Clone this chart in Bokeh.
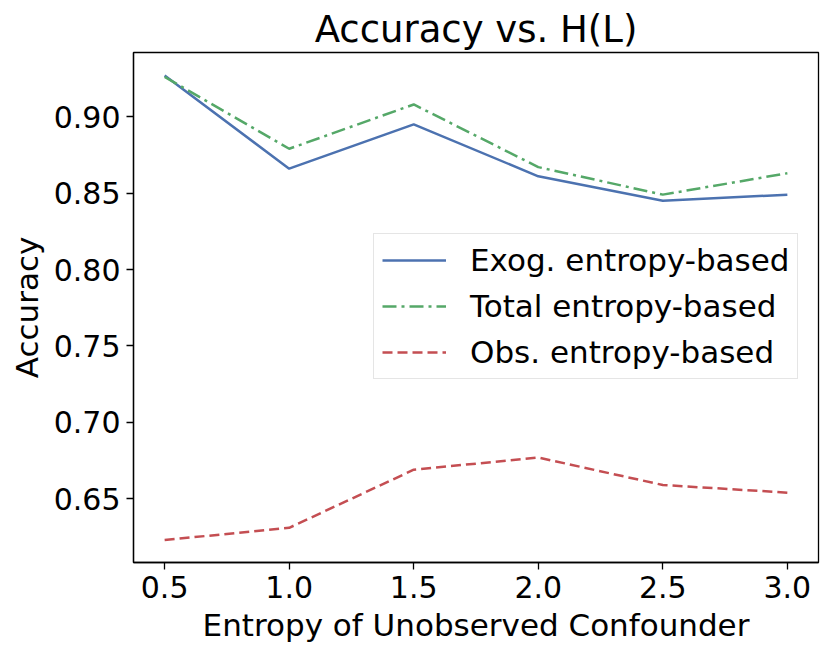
from bokeh.plotting import figure
from bokeh.models import Range1d, FixedTicker, Legend, LegendItem, NumeralTickFormatter
from bokeh.embed import file_html
from bokeh.resources import INLINE

entropy = [0.5, 1.0, 1.5, 2.0, 2.5, 3.0]
exog_acc = [0.927, 0.866, 0.895, 0.861, 0.845, 0.849]
total_acc = [0.926, 0.879, 0.908, 0.867, 0.849, 0.863]
obs_acc = [0.623, 0.631, 0.669, 0.677, 0.659, 0.654]
x_ticks = [0.5, 1.0, 1.5, 2.0, 2.5, 3.0]
y_ticks = [0.65, 0.70, 0.75, 0.80, 0.85, 0.90]
series_names = ["Exog. entropy-based", "Total entropy-based", "Obs. entropy-based"]
colors = ["#4C72B0", "#55A868", "#C44E52"]

FONT = "DejaVu Sans"

p = figure(width=830, height=657, output_backend="svg", toolbar_location=None,
           x_range=Range1d(0.375, 3.125), y_range=Range1d(0.6083, 0.942),
           min_border_left=133, min_border_right=12, min_border_top=52, min_border_bottom=95)

p.title.text = "Accuracy vs. H(L)"
p.title.align = "center"
p.title.text_font = FONT
p.title.text_font_size = "37px"
p.title.text_font_style = "normal"
p.title.text_color = "black"
p.title.standoff = 4

p.xgrid.visible = False
p.ygrid.visible = False
p.outline_line_color = "black"
p.outline_line_width = 1.3
p.outline_line_alpha = 1.0

for ax, label, ticks, fmt in [(p.xaxis[0], "Entropy of Unobserved Confounder", x_ticks, "0.0"),
                              (p.yaxis[0], "Accuracy", y_ticks, "0.00")]:
    ax.axis_label = label
    ax.ticker = FixedTicker(ticks=ticks)
    ax.formatter = NumeralTickFormatter(format=fmt)
    ax.axis_label_text_font = FONT
    ax.axis_label_text_font_size = "31px"
    ax.axis_label_text_font_style = "normal"
    ax.axis_label_text_color = "black"
    ax.major_label_text_font = FONT
    ax.major_label_text_font_size = "30px"
    ax.major_label_text_color = "black"
    ax.major_tick_out = 7
    ax.major_tick_in = 0
    ax.minor_tick_out = 0
    ax.minor_tick_in = 0
    ax.major_tick_line_width = 1.3
    ax.major_tick_line_color = "black"
    ax.axis_line_width = 1.3
    ax.axis_line_color = "black"
    ax.major_label_standoff = 6
    ax.axis_label_standoff = 6

r1 = p.line(entropy, exog_acc, line_color=colors[0], line_width=2.5)
r2 = p.line(entropy, total_acc, line_color=colors[1], line_width=2.5, line_dash="14 5 3 5")
r3 = p.line(entropy, obs_acc, line_color=colors[2], line_width=2.5, line_dash="10 5")

legend = Legend(items=[LegendItem(label=series_names[0], renderers=[r1]),
                       LegendItem(label=series_names[1], renderers=[r2]),
                       LegendItem(label=series_names[2], renderers=[r3])],
                location=(240, 183))
legend.label_text_font = FONT
legend.label_text_font_size = "31px"
legend.label_text_color = "black"
legend.glyph_width = 64
legend.glyph_height = 30
legend.label_height = 30
legend.label_standoff = 24
legend.spacing = 10
legend.padding = 8
legend.margin = 0
legend.border_line_color = "#cccccc"
legend.border_line_width = 1.3
legend.background_fill_alpha = 0.9
p.add_layout(legend, "center")

open("out.html", "w").write(file_html(p, INLINE))
